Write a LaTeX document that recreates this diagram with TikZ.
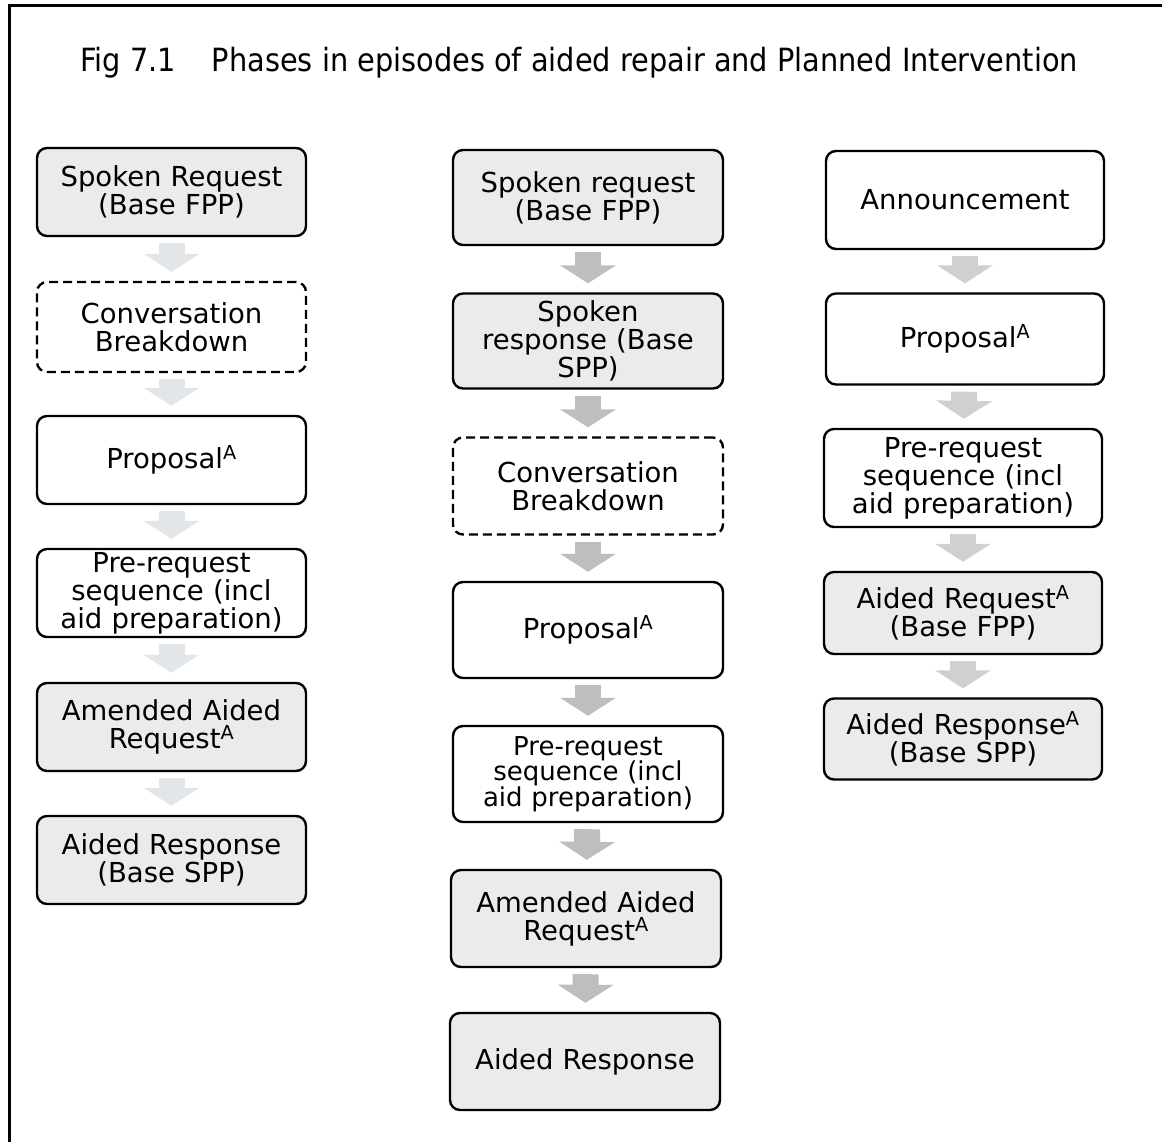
\documentclass[tikz,border=0pt]{standalone}
\usepackage{fontspec}
\setmainfont{DejaVu Sans}
\newfontfamily\titlefont[FakeStretch=0.90]{DejaVu Sans}
\usetikzlibrary{arrows.meta}
\definecolor{boxgray}{RGB}{235,235,235}
\definecolor{arrA}{RGB}{226,230,233}
\definecolor{arrB}{RGB}{190,190,190}
\definecolor{arrC}{RGB}{208,208,208}
\tikzset{
  box/.style={draw=black, line width=2.4pt, rounded corners=10pt,
    minimum height=90pt, align=center, inner sep=0pt,
    font=\fontsize{27.5}{28}\selectfont},
  colone/.style={minimum width=269pt, text width=262pt},
  coltwo/.style={minimum width=270pt, text width=262pt},
  colthree/.style={minimum width=278pt, text width=270pt},
  graybox/.style={box, fill=boxgray},
  whitebox/.style={box, fill=white},
  dashbox/.style={box, fill=white, dash pattern=on 9pt off 5pt},
  barrow/.style={line width=26pt, -{Triangle[width=55pt,length=18pt]},
    shorten <=6pt, shorten >=9pt},
  frameline/.style={line width=3pt, black}
}
\begin{document}
\begin{tikzpicture}[x=1pt,y=-1pt]
\useasboundingbox (0,0) rectangle (1162,1142);
\fill[white] (0,0) rectangle (1162,1142);
\coordinate (fa) at (1162,6);
\coordinate (fb) at (9,6);
\coordinate (fc) at (9,1142);
\draw[frameline] (fa) -- (fb) -- (fc);

\node[font=\titlefont\fontsize{32}{32}\selectfont, anchor=base] (title) at (579,72)
  {Fig 7.1\hspace{36pt}Phases in episodes of aided repair and Planned Intervention};

% column 1
\node[graybox, colone, minimum height=88pt] (a1) at (171.5,192) {Spoken Request\\(Base FPP)};
\node[dashbox, colone] (a2) at (171.5,327) {Conversation\\Breakdown};
\node[whitebox, colone, minimum height=88pt] (a3) at (171.5,460) {Proposal\textsuperscript{A}};
\node[whitebox, colone, minimum height=88pt] (a4) at (171.5,593) {Pre-request\\sequence (incl\\aid preparation)};
\node[graybox, colone, minimum height=88pt] (a5) at (171.5,727) {Amended Aided\\Request\textsuperscript{A}};
\node[graybox, colone, minimum height=88pt] (a6) at (171.5,860) {Aided Response\\(Base SPP)};

% column 2
\node[graybox, coltwo, minimum height=95pt] (b1) at (588,197.5) {Spoken request\\(Base FPP)};
\node[graybox, coltwo, minimum height=95pt] (b2) at (588,341) {Spoken\\response (Base\\SPP)};
\node[dashbox, coltwo, minimum height=97pt] (b3) at (588,486) {Conversation\\Breakdown};
\node[whitebox, coltwo, minimum height=96pt] (b4) at (588,630) {Proposal\textsuperscript{A}};
\node[whitebox, coltwo, minimum height=96pt, font=\fontsize{26}{25.5}\selectfont] (b5) at (588,774) {Pre-request\\sequence (incl\\aid preparation)};
\node[graybox, coltwo, minimum height=97pt] (b6) at (586,918.5) {Amended Aided\\Request\textsuperscript{A}};
\node[graybox, coltwo, minimum height=97pt] (b7) at (585,1061.5) {Aided Response};

% column 3
\node[whitebox, colthree, minimum height=98pt] (c1) at (965,200) {Announcement};
\node[whitebox, colthree, minimum height=91pt] (c2) at (965,339) {Proposal\textsuperscript{A}};
\node[whitebox, colthree, minimum height=98pt] (c3) at (963,478) {Pre-request\\sequence (incl\\aid preparation)};
\node[graybox, colthree, minimum height=82pt] (c4) at (963,613) {Aided Request\textsuperscript{A}\\(Base FPP)};
\node[graybox, colthree, minimum height=81pt] (c5) at (963,739) {Aided Response\textsuperscript{A}\\(Base SPP)};

% arrows
\foreach \s/\t in {a1/a2,a2/a3,a3/a4,a4/a5,a5/a6}
  \draw[barrow, arrA] (\s) -- (\t);
\foreach \s/\t in {b1/b2,b2/b3,b3/b4,b4/b5,b5/b6,b6/b7}
  \draw[barrow, arrB] (\s) -- (\t);
\foreach \s/\t in {c1/c2,c2/c3,c3/c4,c4/c5}
  \draw[barrow, arrC] (\s) -- (\t);
\end{tikzpicture}
\end{document}
